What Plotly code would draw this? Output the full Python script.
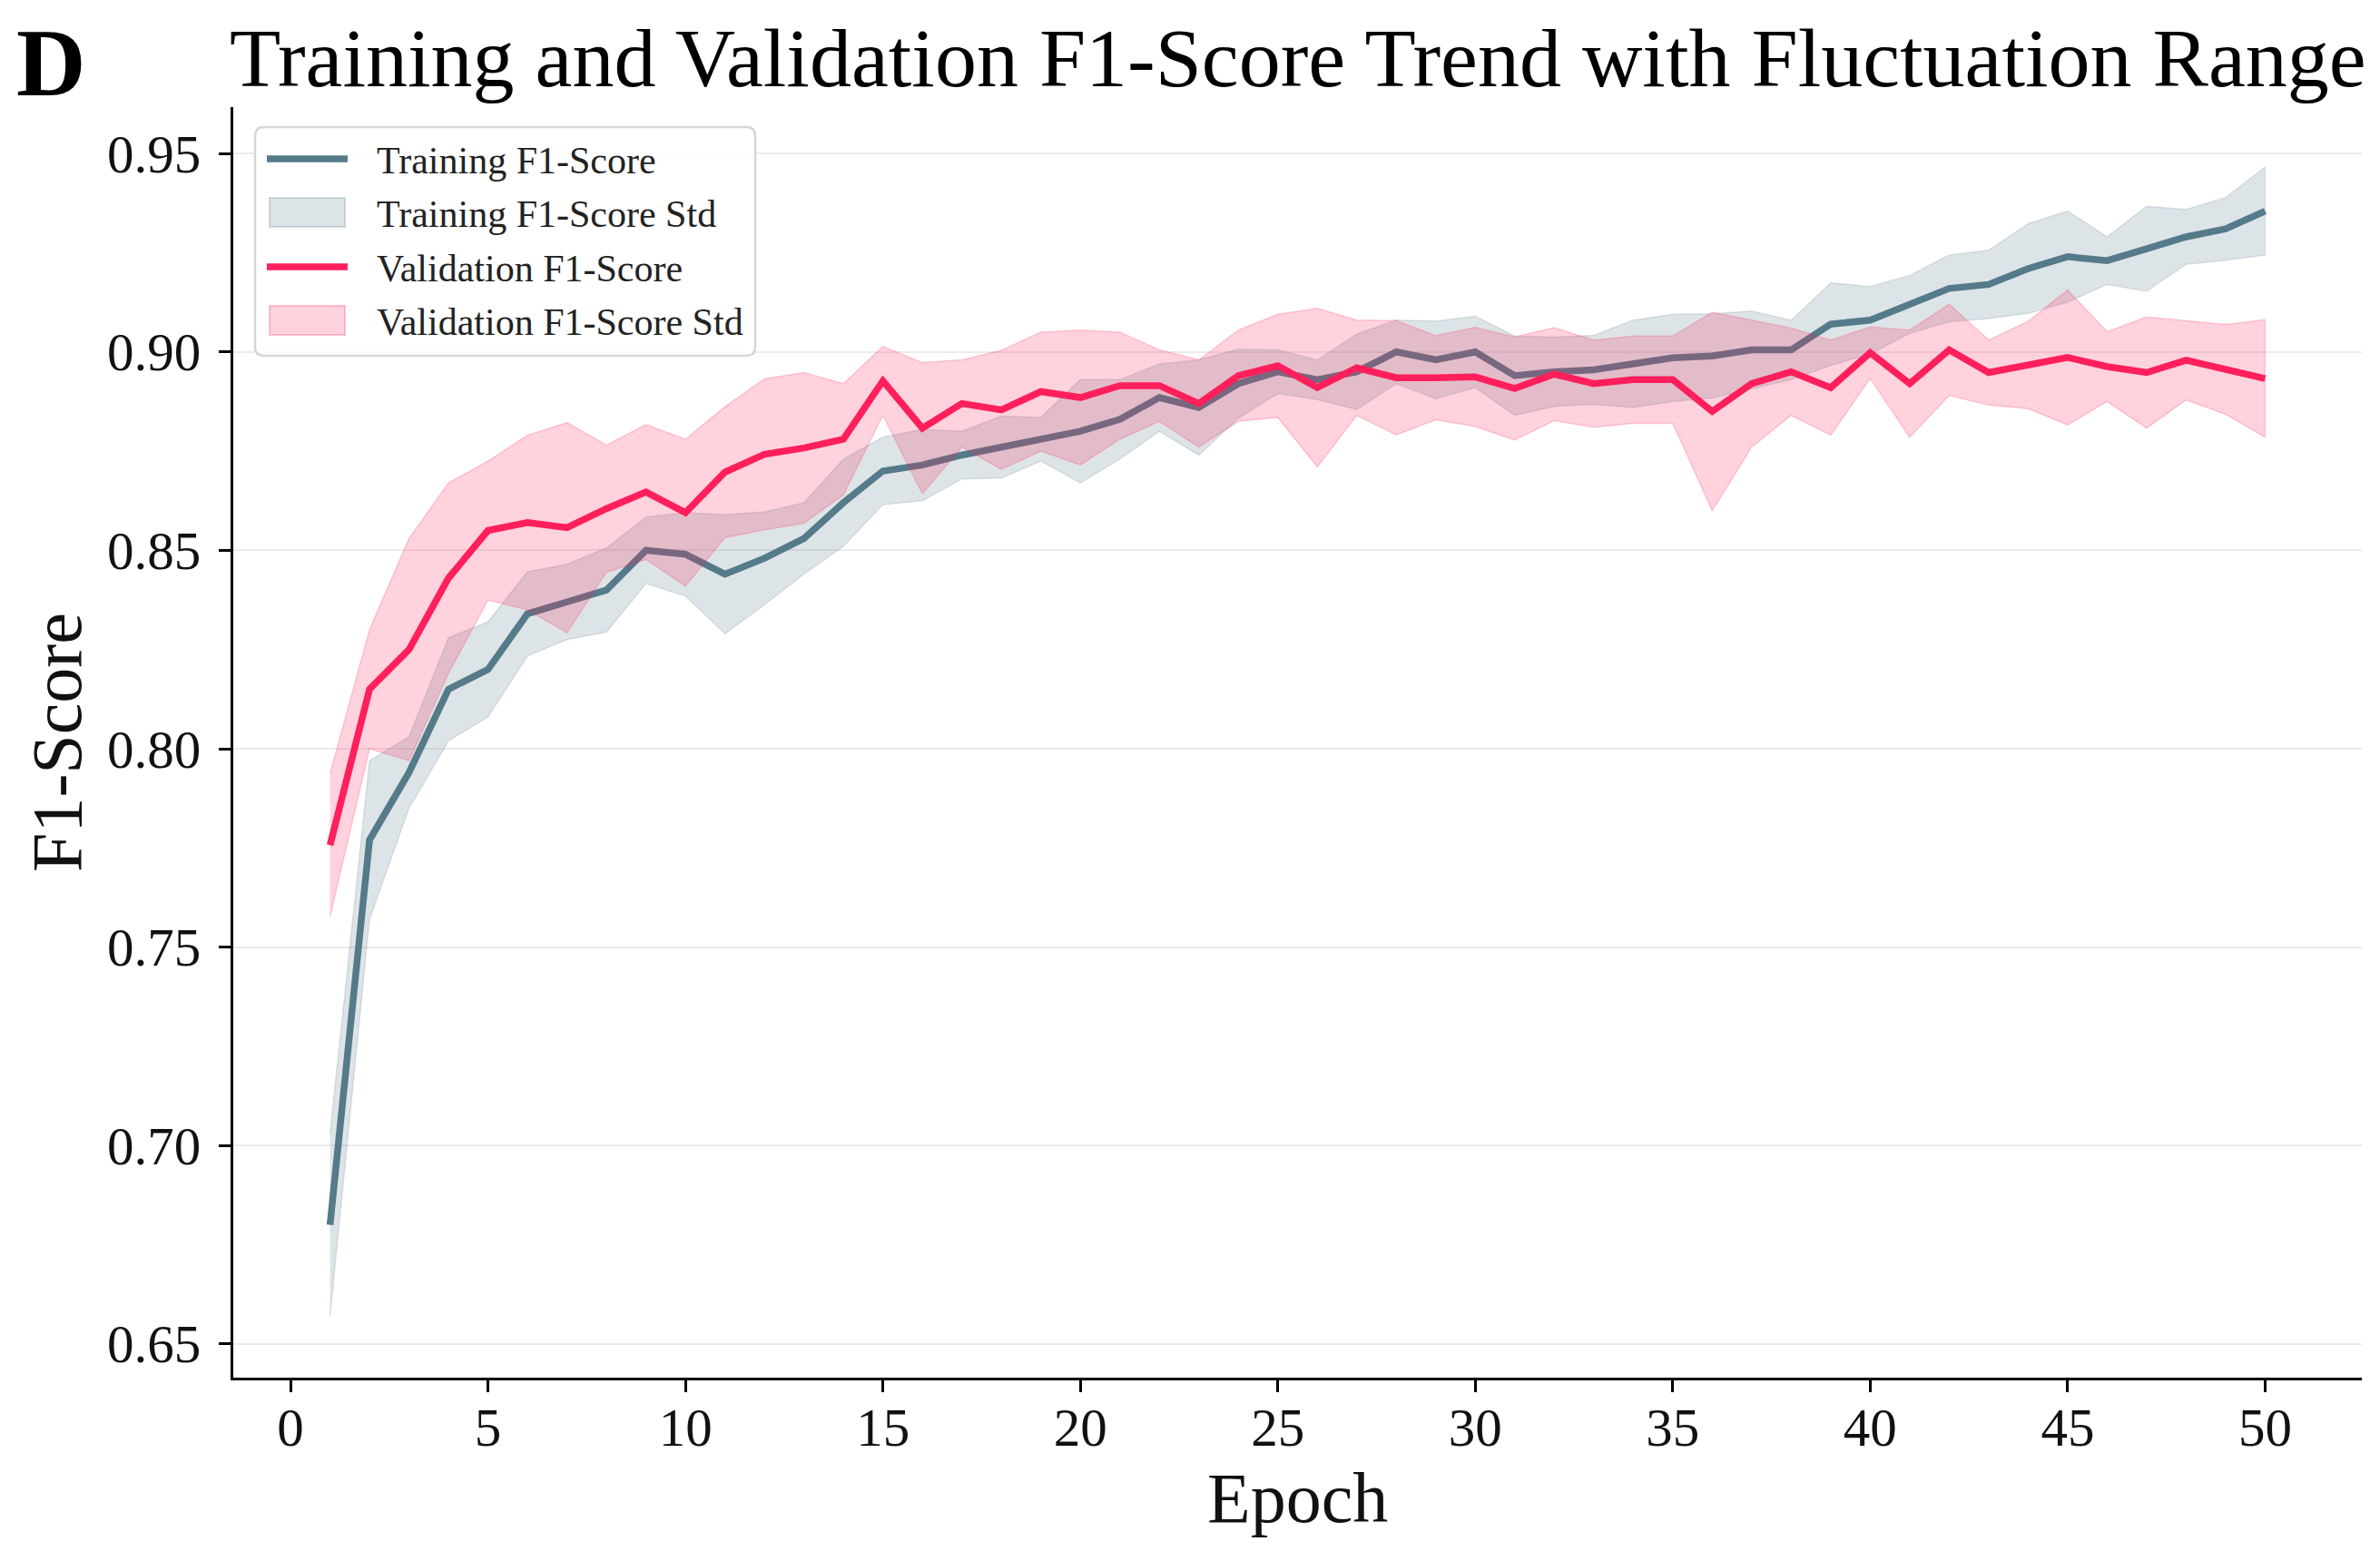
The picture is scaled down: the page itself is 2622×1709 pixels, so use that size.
import plotly.graph_objects as go

epochs = list(range(1, 51))

train_mean = [0.680, 0.777, 0.794, 0.815, 0.820, 0.834, 0.837, 0.840, 0.850, 0.849,
              0.844, 0.848, 0.853, 0.862, 0.870, 0.8715, 0.874, 0.876, 0.878, 0.880,
              0.883, 0.8885, 0.886, 0.892, 0.895, 0.893, 0.895, 0.900, 0.898, 0.900,
              0.894, 0.895, 0.8955, 0.897, 0.8985, 0.899, 0.9005, 0.9005, 0.907, 0.908,
              0.912, 0.916, 0.917, 0.921, 0.924, 0.923, 0.926, 0.929, 0.931, 0.9355]

train_std = [0.023, 0.020, 0.009, 0.013, 0.012, 0.0106, 0.0095, 0.0106, 0.0084, 0.0105,
             0.015, 0.0117, 0.009, 0.011, 0.0085, 0.009, 0.006, 0.0078, 0.0055, 0.013,
             0.010, 0.0085, 0.012, 0.0087, 0.0055, 0.005, 0.0095, 0.008, 0.0098, 0.009,
             0.010, 0.0087, 0.0087, 0.011, 0.011, 0.0106, 0.0098, 0.0075, 0.0104, 0.0085,
             0.0073, 0.0084, 0.0086, 0.0113, 0.0115, 0.006, 0.0107, 0.0069, 0.0079, 0.0111]

val_mean = [0.7757, 0.815, 0.825, 0.843, 0.855, 0.857, 0.8557, 0.8605, 0.8647, 0.8595,
            0.8697, 0.8742, 0.8758, 0.878, 0.8927, 0.8808, 0.887, 0.8854, 0.890, 0.8885,
            0.8915, 0.8915, 0.887, 0.894, 0.8965, 0.891, 0.896, 0.8935, 0.8935, 0.8937,
            0.8908, 0.8944, 0.892, 0.893, 0.893, 0.885, 0.892, 0.895, 0.891, 0.8998,
            0.892, 0.9005, 0.8948, 0.8967, 0.8986, 0.8963, 0.8948, 0.8979, 0.8956, 0.8933]

val_std = [0.018, 0.015, 0.028, 0.024, 0.0175, 0.022, 0.0265, 0.016, 0.017, 0.0185,
           0.0165, 0.019, 0.019, 0.014, 0.0087, 0.0165, 0.011, 0.015, 0.015, 0.017,
           0.0135, 0.009, 0.011, 0.0115, 0.013, 0.020, 0.012, 0.0144, 0.0106, 0.0125,
           0.013, 0.0117, 0.011, 0.011, 0.011, 0.025, 0.016, 0.011, 0.012, 0.0065,
           0.0135, 0.0115, 0.0082, 0.011, 0.017, 0.0088, 0.014, 0.010, 0.0113, 0.0148]

x_ticks = [0, 5, 10, 15, 20, 25, 30, 35, 40, 45, 50]
y_ticks = [0.65, 0.70, 0.75, 0.80, 0.85, 0.90, 0.95]

legend_labels = ["Training F1-Score", "Training F1-Score Std",
                 "Validation F1-Score", "Validation F1-Score Std"]

TRAIN_COLOR = "#557A89"
VAL_COLOR = "#FF1F5B"
TRAIN_FILL = "rgba(85,122,137,0.2)"
VAL_FILL = "rgba(255,31,91,0.2)"
FONT = "Liberation Serif"

# page is 2622x1709; the html body has an 8px margin, so the figure is inset
OFF = 8
W, H = 2622 - 2 * OFF, 1709 - 2 * OFF
# plot area in page pixels: x 257..2602, y 118..1518
ML, MT = 257 - OFF, 118 - OFF
MR = OFF + W - 2602
MB = OFF + H - 1518
PW, PH = W - ML - MR, H - MT - MB


def px(x):  # page pixel x -> paper
    return (x - OFF - ML) / PW


def py(y):  # page pixel y -> paper
    return (OFF + H - MB - y) / PH


def band(mean, std):
    upper = [m + s for m, s in zip(mean, std)]
    lower = [m - s for m, s in zip(mean, std)]
    return epochs + epochs[::-1], upper + lower[::-1]


fig = go.Figure()

bx, by = band(train_mean, train_std)
fig.add_trace(go.Scatter(x=bx, y=by, fill="toself", fillcolor=TRAIN_FILL,
                         line=dict(color="rgba(85,122,137,0.18)", width=1.5),
                         name=legend_labels[1], hoverinfo="skip", showlegend=False))
fig.add_trace(go.Scatter(x=epochs, y=train_mean, mode="lines",
                         line=dict(color=TRAIN_COLOR, width=7.5),
                         name=legend_labels[0], showlegend=False))
bx2, by2 = band(val_mean, val_std)
fig.add_trace(go.Scatter(x=bx2, y=by2, fill="toself", fillcolor=VAL_FILL,
                         line=dict(color="rgba(255,31,91,0.2)", width=1.5),
                         name=legend_labels[3], hoverinfo="skip", showlegend=False))
fig.add_trace(go.Scatter(x=epochs, y=val_mean, mode="lines",
                         line=dict(color=VAL_COLOR, width=7.5),
                         name=legend_labels[2], showlegend=False))

# ---- manual legend (matplotlib-style) ----
shapes = []
annotations = []
box_l, box_r, box_t, box_b = 281, 832, 140, 392
r = 10
path = (f"M {px(box_l + r)},{py(box_t)} L {px(box_r - r)},{py(box_t)} "
        f"Q {px(box_r)},{py(box_t)} {px(box_r)},{py(box_t + r)} "
        f"L {px(box_r)},{py(box_b - r)} Q {px(box_r)},{py(box_b)} {px(box_r - r)},{py(box_b)} "
        f"L {px(box_l + r)},{py(box_b)} Q {px(box_l)},{py(box_b)} {px(box_l)},{py(box_b - r)} "
        f"L {px(box_l)},{py(box_t + r)} Q {px(box_l)},{py(box_t)} {px(box_l + r)},{py(box_t)} Z")
shapes.append(dict(type="path", xref="paper", yref="paper", path=path,
                   fillcolor="rgba(255,255,255,0.85)", line=dict(color="#d6d6d6", width=2.5)))
row_y = [175, 234, 294, 353]
sym_l, sym_r = 294, 383
kinds = [("line", TRAIN_COLOR), ("rect", TRAIN_FILL), ("line", VAL_COLOR), ("rect", VAL_FILL)]
edge = ["", "rgba(85,122,137,0.25)", "", "rgba(255,31,91,0.25)"]
for i, (kind, col) in enumerate(kinds):
    yc = row_y[i]
    if kind == "line":
        shapes.append(dict(type="line", xref="paper", yref="paper",
                           x0=px(sym_l), x1=px(sym_r), y0=py(yc), y1=py(yc),
                           line=dict(color=col, width=7.5)))
    else:
        shapes.append(dict(type="rect", xref="paper", yref="paper",
                           x0=px(sym_l + 3), x1=px(sym_r - 3), y0=py(yc - 16), y1=py(yc + 16),
                           fillcolor=col, line=dict(color=edge[i], width=2)))
    annotations.append(dict(text=legend_labels[i], xref="paper", yref="paper",
                            x=px(413), y=py(yc + 2), xanchor="left", yanchor="middle",
                            showarrow=False,
                            font=dict(family=FONT, size=42, color="#222222")))

annotations.append(dict(text="<b>D</b>", xref="paper", yref="paper", x=px(16), y=py(9),
                        xanchor="left", yanchor="top", showarrow=False,
                        font=dict(family=FONT, size=106, color="black")))
annotations.append(dict(text="Training and Validation F1-Score Trend with Fluctuation Range",
                        xref="paper", yref="paper", x=0.5, y=py(64), xanchor="center",
                        yanchor="middle", showarrow=False,
                        font=dict(family=FONT, size=92, color="black")))
annotations.append(dict(text="Epoch", xref="paper", yref="paper", x=0.5, y=py(1650),
                        xanchor="center", yanchor="middle", showarrow=False,
                        font=dict(family=FONT, size=78, color="#111111")))
annotations.append(dict(text="F1-Score", xref="paper", yref="paper", x=px(62), y=0.5,
                        xanchor="center", yanchor="middle", showarrow=False, textangle=-90,
                        font=dict(family=FONT, size=78, color="#111111")))

fig.update_layout(
    width=W, height=H,
    margin=dict(l=ML, r=MR, t=MT, b=MB),
    paper_bgcolor="white", plot_bgcolor="white",
    font=dict(family=FONT, color="#111111"),
    showlegend=False,
    xaxis=dict(range=[-1.45, 52.45], tickvals=x_ticks, ticks="outside", ticklen=13,
               tickwidth=2.5, tickcolor="black", showline=True, linecolor="black",
               linewidth=3, showgrid=False, zeroline=False, ticklabelstandoff=-12,
               tickfont=dict(family=FONT, size=59, color="#111111")),
    yaxis=dict(range=[0.6415, 0.9617], tickvals=y_ticks, tickformat=".2f",
               ticks="outside", ticklen=13, tickwidth=2.5, tickcolor="black",
               showline=True, linecolor="black", linewidth=3, showgrid=True,
               gridcolor="#ebebeb", gridwidth=2, zeroline=False, ticklabelstandoff=8,
               tickfont=dict(family=FONT, size=59, color="#111111")),
    shapes=shapes,
    annotations=annotations,
)

fig.write_html("out.html")
